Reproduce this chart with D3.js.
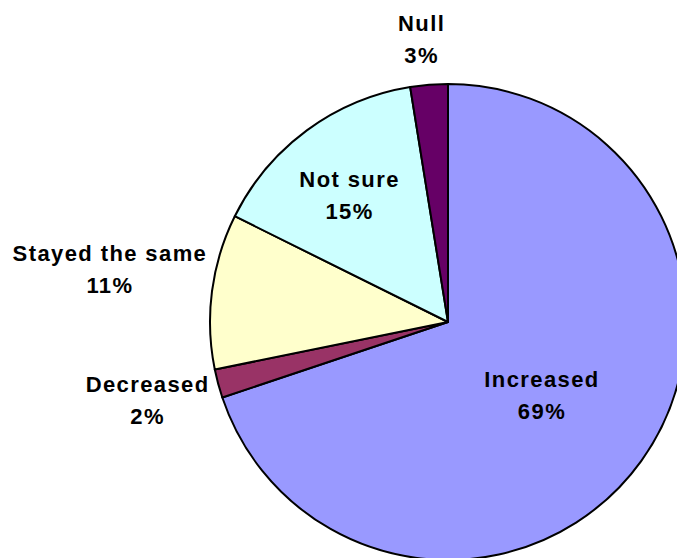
<!DOCTYPE html>
<html>
<head>
<meta charset="utf-8">
<script src="https://cdn.jsdelivr.net/npm/d3@7"></script>
<style>
  html, body { margin: 0; padding: 0; background: #fff; }
  svg { display: block; }
</style>
</head>
<body>
<svg id="chart" width="677" height="558"></svg>
<script>
// ---- data ----
const categories = ["Increased", "Decreased", "Stayed the same", "Not sure", "Null"];
const shares = [69.86, 1.94, 10.53, 15.13, 2.54];
const percentLabels = ["69%", "2%", "11%", "15%", "3%"];
const colors = ["#9999FF", "#993366", "#FFFFCC", "#CCFFFF", "#660066"];

// ---- label layout (radius relative to pie radius, angle tweak in degrees) ----
const labelRadius = [0.52, 1.313, 1.433, 0.649, 1.161];
const labelAngleShift = [4.85, -1.0, 0.13, -3.2, -0.9];

const W = 677, H = 558;
const cx = 448, cy = 322, R = 238;

const svg = d3.select("#chart");
const g = svg.append("g").attr("transform", `translate(${cx},${cy})`);

const pie = d3.pie().sort(null).value(d => d.v);
const data = categories.map((c, i) => ({ c, v: shares[i], i }));
const arcs = pie(data);
const arc = d3.arc().innerRadius(0).outerRadius(R);

g.selectAll("path.slice")
  .data(arcs)
  .enter().append("path")
  .attr("class", "slice")
  .attr("d", arc)
  .attr("fill", d => colors[d.data.i])
  .attr("stroke", "#000")
  .attr("stroke-width", 2)
  .attr("stroke-linejoin", "round");

const labels = g.selectAll("g.lbl")
  .data(arcs)
  .enter().append("g")
  .attr("class", "lbl")
  .attr("transform", d => {
    const i = d.data.i;
    const a = (d.startAngle + d.endAngle) / 2 + labelAngleShift[i] * Math.PI / 180;
    const r = labelRadius[i] * R;
    return `translate(${r * Math.sin(a)},${-r * Math.cos(a)})`;
  });

labels.append("text")
  .attr("text-anchor", "middle")
  .attr("font-family", "Liberation Sans, Arial, sans-serif")
  .attr("font-weight", "bold")
  .attr("font-size", 22)
  .attr("letter-spacing", 1.4)
  .attr("fill", "#000")
  .selectAll("tspan")
  .data(d => [d.data.c, percentLabels[d.data.i]])
  .enter().append("tspan")
  .attr("x", 0)
  .attr("y", (t, j) => j === 0 ? -16 : 16)
  .text(t => t);
</script>
</body>
</html>
